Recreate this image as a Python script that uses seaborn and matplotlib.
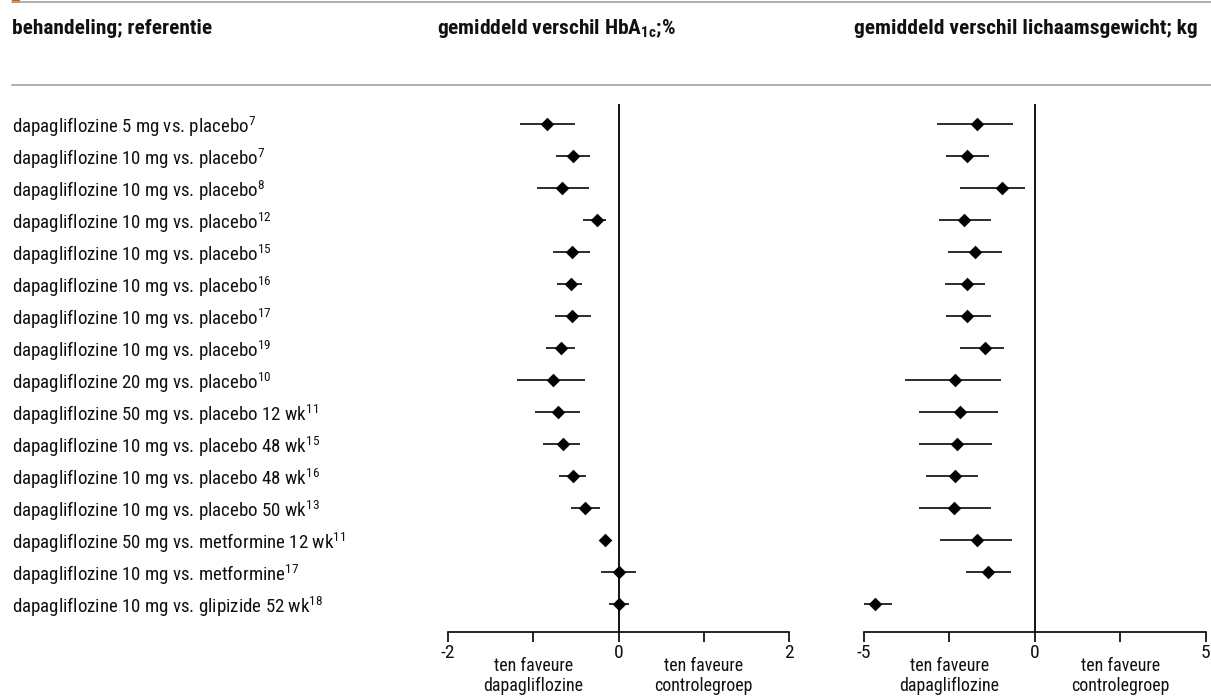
import matplotlib
matplotlib.use("Agg")
import matplotlib.pyplot as plt
import matplotlib.transforms as mtransforms
from matplotlib import font_manager as fm
from matplotlib.lines import Line2D
from matplotlib.patches import Rectangle
import seaborn as sns
import pandas as pd

# ---------------- data ----------------
labels = [
    "dapagliflozine 5 mg vs. placebo$^{7}$",
    "dapagliflozine 10 mg vs. placebo$^{7}$",
    "dapagliflozine 10 mg vs. placebo$^{8}$",
    "dapagliflozine 10 mg vs. placebo$^{12}$",
    "dapagliflozine 10 mg vs. placebo$^{15}$",
    "dapagliflozine 10 mg vs. placebo$^{16}$",
    "dapagliflozine 10 mg vs. placebo$^{17}$",
    "dapagliflozine 10 mg vs. placebo$^{19}$",
    "dapagliflozine 20 mg vs. placebo$^{10}$",
    "dapagliflozine 50 mg vs. placebo 12 wk$^{11}$",
    "dapagliflozine 10 mg vs. placebo 48 wk$^{15}$",
    "dapagliflozine 10 mg vs. placebo 48 wk$^{16}$",
    "dapagliflozine 10 mg vs. placebo 50 wk$^{13}$",
    "dapagliflozine 50 mg vs. metformine 12 wk$^{11}$",
    "dapagliflozine 10 mg vs. metformine$^{17}$",
    "dapagliflozine 10 mg vs. glipizide 52 wk$^{18}$",
]
hba1c_mean = [-0.84, -0.53, -0.66, -0.25, -0.54, -0.56, -0.54, -0.67,
              -0.77, -0.71, -0.65, -0.53, -0.39, -0.16, 0.01, 0.01]
hba1c_lo = [-1.15, -0.73, -0.96, -0.42, -0.77, -0.72, -0.75, -0.85,
            -1.19, -0.98, -0.89, -0.70, -0.56, -0.18, -0.21, -0.11]
hba1c_hi = [-0.51, -0.34, -0.35, -0.15, -0.33, -0.43, -0.32, -0.51,
            -0.39, -0.45, -0.45, -0.38, -0.22, -0.14, 0.21, 0.12]
weight_mean = [-1.68, -1.97, -0.97, -2.08, -1.74, -1.97, -1.97, -1.44,
               -2.32, -2.19, -2.27, -2.32, -2.35, -1.68, -1.36, -4.67]
weight_lo = [-2.85, -2.60, -2.18, -2.81, -2.53, -2.62, -2.60, -2.17,
             -3.80, -3.39, -3.39, -3.18, -3.37, -2.76, -2.00, -5.01]
weight_hi = [-0.62, -1.35, -0.29, -1.27, -0.97, -1.46, -1.27, -0.89,
             -1.00, -1.08, -1.24, -1.67, -1.27, -0.66, -0.69, -4.18]

col_header = "behandeling; referentie"
hba1c_header = r"gemiddeld verschil HbA$_{\mathbf{1c}}$;%"
weight_header = "gemiddeld verschil lichaamsgewicht; kg"
hba1c_ticks = [-2, -1, 0, 1, 2]
hba1c_ticklabels = ["-2", "", "0", "", "2"]
weight_ticks = [-5, -2.5, 0, 2.5, 5]
weight_ticklabels = ["-5", "", "0", "", "5"]
left_note = "ten faveure\ndapagliflozine"
right_note = "ten faveure\ncontrolegroep"

# ---------------- style ----------------
sns.set_theme(style="white")

# look for a narrow / condensed sans family among the installed fonts
narrow_pref = ["Liberation Sans Narrow", "Roboto Condensed", "Open Sans Condensed",
               "Noto Sans", "DejaVu Sans", "Open Sans", "Roboto", "Liberation Sans"]
FONT, STRETCH = None, "normal"
cond_stretches = ("condensed", "semi-condensed", "extra-condensed")
entries = fm.fontManager.ttflist
for fam in narrow_pref:
    for e in entries:
        if e.name == fam and (fam.endswith("Narrow") or fam.endswith("Condensed")):
            FONT, STRETCH = fam, "normal"
            break
        if e.name == fam and e.stretch in cond_stretches:
            FONT, STRETCH = fam, e.stretch
            break
    if FONT:
        break
if FONT is None:
    FONT = "DejaVu Sans"
NARROW = FONT != "DejaVu Sans" or STRETCH != "normal"

plt.rcParams["font.family"] = [FONT, "DejaVu Sans"]
plt.rcParams["font.stretch"] = STRETCH
plt.rcParams["mathtext.fontset"] = "custom"
plt.rcParams["mathtext.rm"] = FONT
plt.rcParams["mathtext.it"] = FONT + ":italic"
plt.rcParams["mathtext.bf"] = FONT + ":bold"

W, H = 1211, 697
fig = plt.figure(figsize=(W / 100, H / 100), dpi=100)
fig.patch.set_facecolor("white")

row_top_px, axis_px = 104, 632
bottom = (H - axis_px) / H
height = (axis_px - row_top_px) / H
ax1 = fig.add_axes([448 / W, bottom, 341 / W, height])
ax2 = fig.add_axes([863.7 / W, bottom, 342 / W, height])

n = len(labels)
df = pd.DataFrame({
    "label": labels,
    "row": list(range(n)),
    "hba1c": hba1c_mean, "hba1c_lo": hba1c_lo, "hba1c_hi": hba1c_hi,
    "weight": weight_mean, "weight_lo": weight_lo, "weight_hi": weight_hi,
})

TXT = 13.6 if NARROW else 11.0
HDR = 15.4 if NARROW else 10.6
NOTE = 12.9 if NARROW else 11.4
TICK = 14.0 if NARROW else 12.0
for ax, key, ticks, tlabels, xlim in [
    (ax1, "hba1c", hba1c_ticks, hba1c_ticklabels, (-2, 2)),
    (ax2, "weight", weight_ticks, weight_ticklabels, (-5, 5)),
]:
    ax.set_facecolor("white")
    ax.hlines(df["row"], df[key + "_lo"], df[key + "_hi"], color="#1a1a1a", lw=1.3, zorder=2)
    sns.scatterplot(data=df, x=key, y="row", marker="D", s=48, color="black",
                    edgecolor="black", linewidth=0, ax=ax, zorder=3, legend=False)
    ax.axvline(0, color="black", lw=1.3, zorder=1)
    ax.set_xlim(*xlim)
    ax.set_ylim(n - 1 + 28 / 32, -20 / 32)
    for s in ["top", "right", "left"]:
        ax.spines[s].set_visible(False)
    ax.spines["bottom"].set_color("black")
    ax.spines["bottom"].set_linewidth(1.2)
    ax.set_xticks(ticks)
    ax.set_xticklabels(tlabels)
    ax.tick_params(axis="x", direction="out", length=7, width=1.2, color="black",
                   labelsize=TICK, pad=2, labelcolor="#111111", bottom=True)
    ax.set_xlabel("")
    ax.set_ylabel("")
    ax.grid(False)
    tr = mtransforms.blended_transform_factory(ax.transAxes, fig.transFigure)
    ax.text(0.25, (H - 676) / H, left_note, transform=tr, ha="center", va="center",
            fontsize=NOTE, color="#111111", linespacing=1.2)
    ax.text(0.75, (H - 676) / H, right_note, transform=tr, ha="center", va="center",
            fontsize=NOTE, color="#111111", linespacing=1.2)

# row labels as y tick labels of the left axes, left-aligned at x = 12 px
ax1.set_yticks(df["row"])
ax1.set_yticklabels(df["label"])
pad_pt = (448 - 12) * 72 / 100
ax1.tick_params(axis="y", length=0, pad=pad_pt, labelsize=TXT, labelcolor="#111111")
for t in ax1.get_yticklabels():
    t.set_horizontalalignment("left")
ax2.set_yticks([])

# headers
fig.text(12 / W, (H - 29) / H, col_header, fontsize=HDR, fontweight="bold",
         ha="left", va="center", color="#111111")
fig.text(437 / W, (H - 29) / H, hba1c_header, fontsize=HDR, fontweight="bold",
         ha="left", va="center", color="#111111")
fig.text(1198 / W, (H - 29) / H, weight_header, fontsize=HDR, fontweight="bold",
         ha="right", va="center", color="#111111")

# decorative rules
fig.add_artist(Line2D([12 / W, 1], [(H - 2) / H] * 2, color="#a8a8a8", lw=1.3,
                      transform=fig.transFigure))
fig.add_artist(Line2D([12 / W, 1], [(H - 85) / H] * 2, color="#a8a8a8", lw=1.3,
                      transform=fig.transFigure))
fig.add_artist(Rectangle((12 / W, (H - 3) / H), 8 / W, 3 / H, color="#c8601a",
                         transform=fig.transFigure, lw=0))

fig.savefig("out.png", dpi=100, facecolor="white")
